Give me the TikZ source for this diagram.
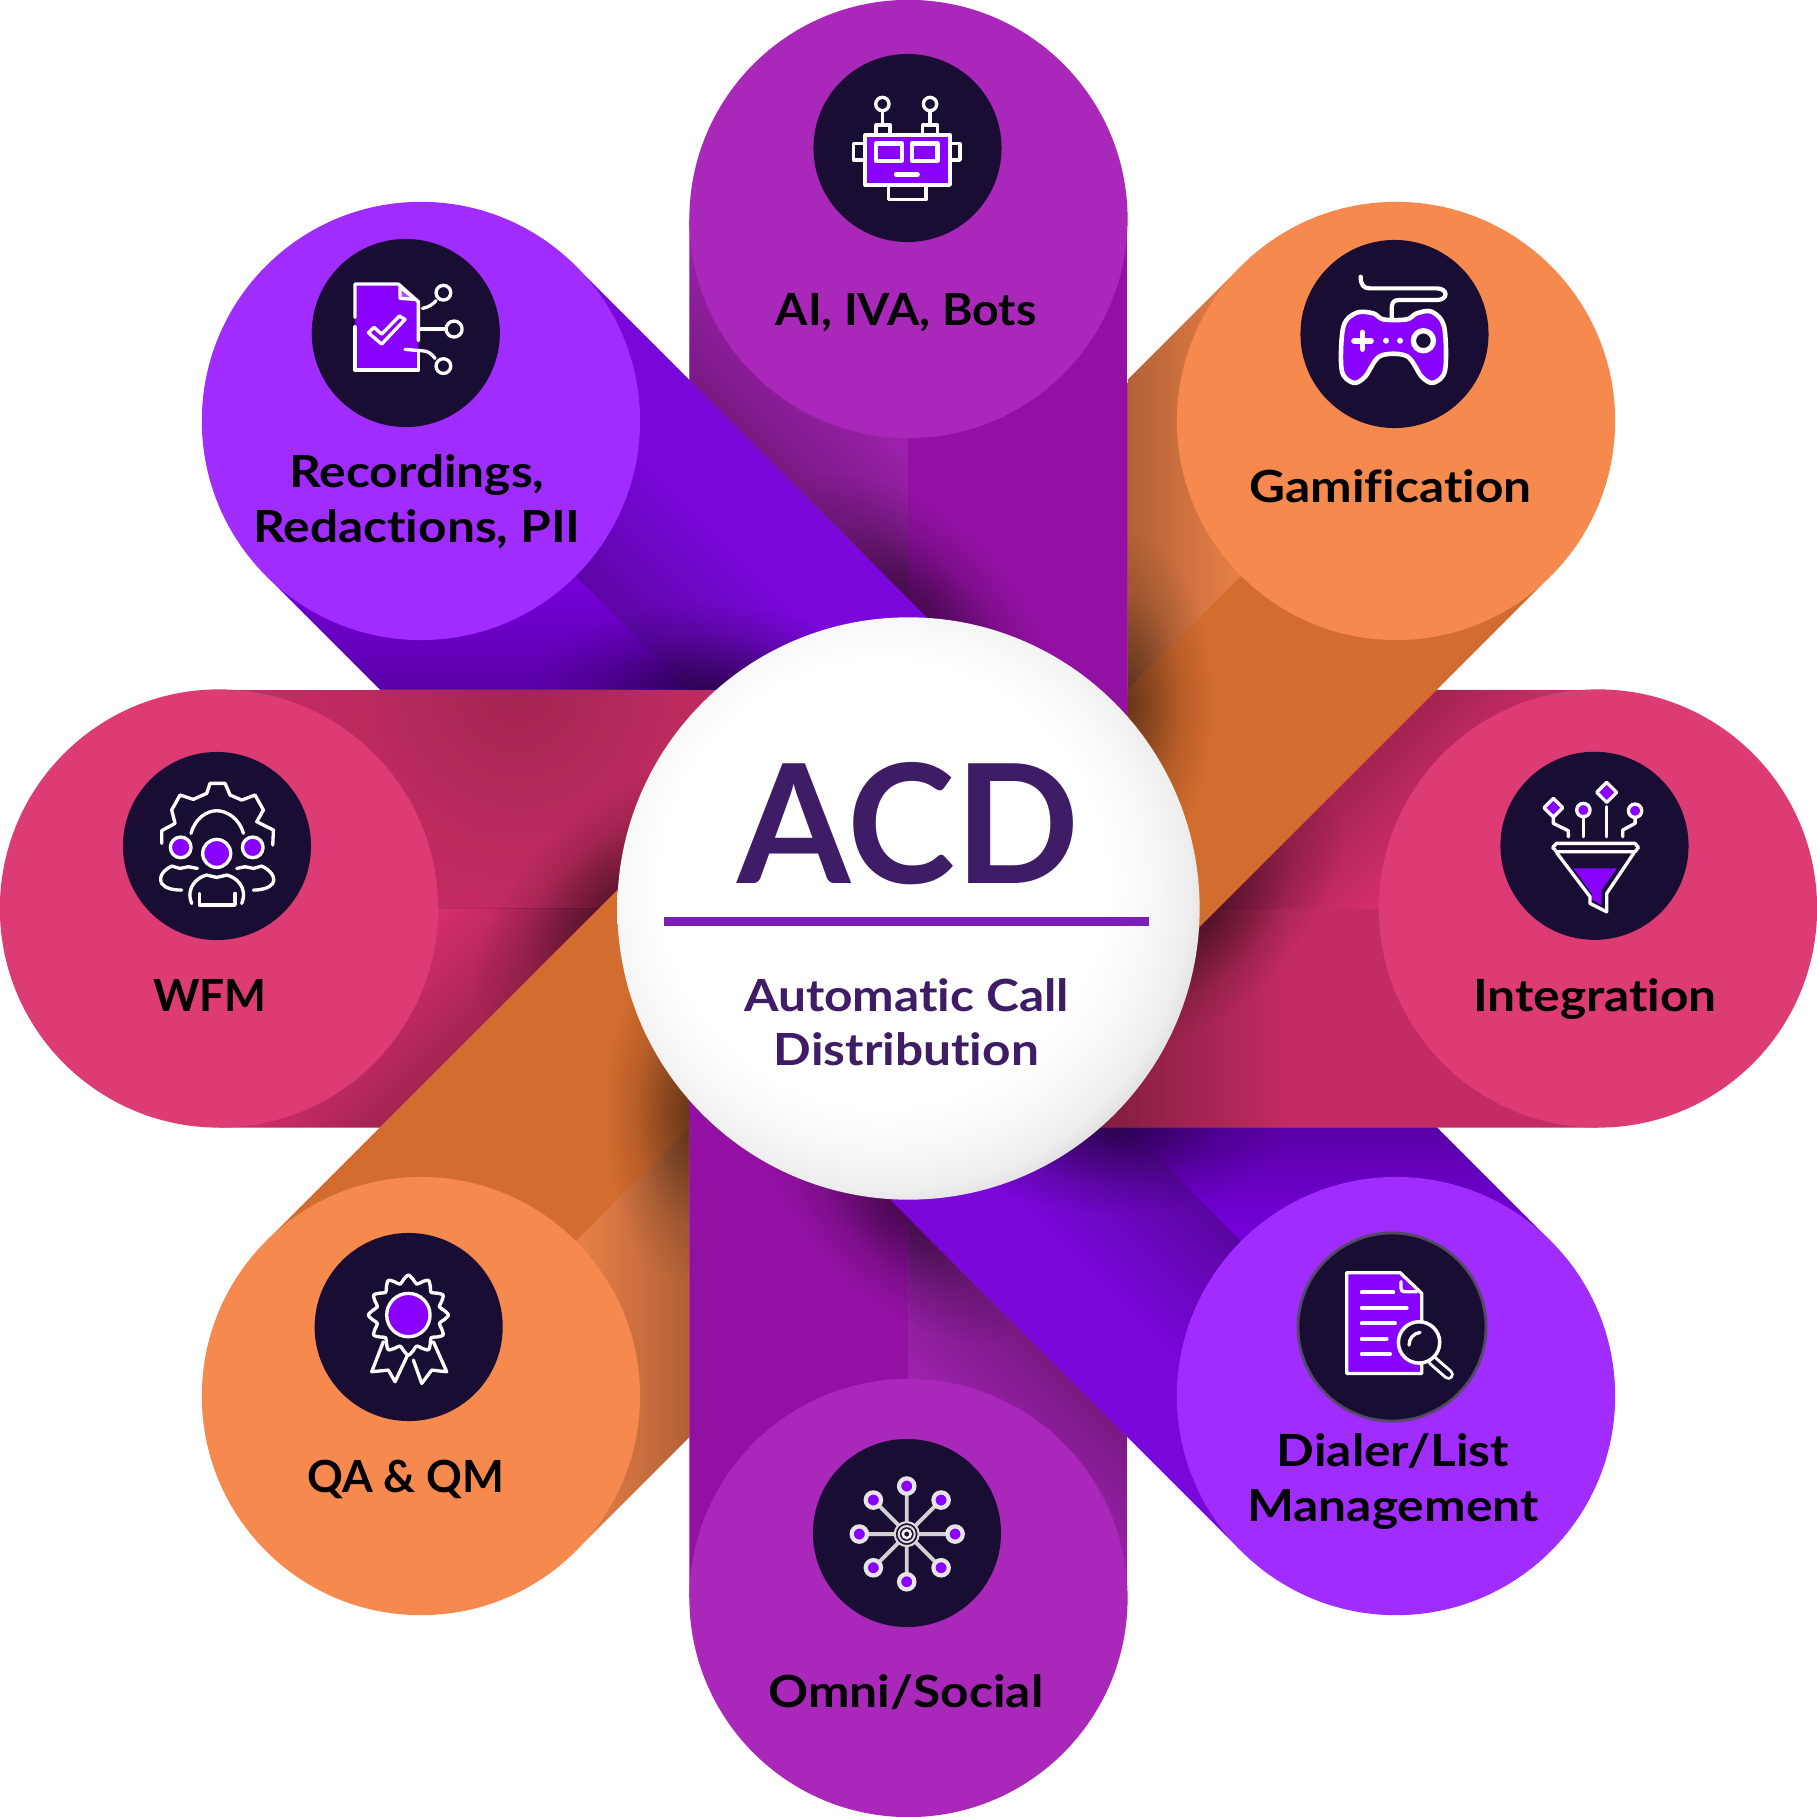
\documentclass[tikz,border=0pt]{standalone}
\usepackage{fontspec}
\setmainfont{Lato}[FakeStretch=1.12,Ligatures=NoCommon]
\newfontfamily\capsfont{Lato}[FakeStretch=1.05,Ligatures=NoCommon]
\newfontfamily\capsnarrow{Lato}[FakeStretch=1.0,Ligatures=NoCommon]
\newfontfamily\acdfont{Lato}[FakeStretch=.985]
\usetikzlibrary{fadings}
\definecolor{topdisc}{HTML}{A927B9}\definecolor{topa}{HTML}{A323B3}\definecolor{topb}{HTML}{9211A2}
\definecolor{ordisc}{HTML}{F6894D}\definecolor{ora}{HTML}{F0844A}\definecolor{orb}{HTML}{D36C2F}
\definecolor{pkdisc}{HTML}{DC3B74}\definecolor{pka}{HTML}{DC3070}\definecolor{pkb}{HTML}{C32C62}
\definecolor{vidisc}{HTML}{A02CFF}\definecolor{via}{HTML}{7A00E2}\definecolor{vib}{HTML}{7A08DA}
\definecolor{badgedark}{HTML}{1A0D33}\definecolor{icoviolet}{HTML}{8A00FF}
\definecolor{acdtext}{HTML}{3F1C66}\definecolor{rulecol}{HTML}{7B1FB5}
\pgfdeclareradialshading{discball}{\pgfpoint{-3.5bp}{3.5bp}}{color(0bp)=(white); color(19bp)=(white); color(23bp)=(white!97!black); color(26bp)=(white!93!black); color(28.5bp)=(white!84!black); color(29.5bp)=(white!72!black); color(30.5bp)=(white!62!black); color(50bp)=(white!62!black)}
\tikzfading[name=shfade, left color=transparent!0, right color=transparent!100]
\pgfdeclareradialshading{softrad}{\pgfpoint{0bp}{0bp}}{color(0bp)=(pgftransparent!0); color(8bp)=(pgftransparent!35); color(16bp)=(pgftransparent!75); color(25bp)=(pgftransparent!100); color(50bp)=(pgftransparent!100)}
\pgfdeclarefading{radfade}{\pgfuseshading{softrad}}
\newcommand{\stripshadow}[4]{\begin{scope}[transform canvas={rotate=#1}]\fill[black,opacity=#4,path fading=shfade] (#2,-1000) rectangle ({#2+#3},1000);\end{scope}}
\newcommand{\radshadow}[4]{\fill[black,opacity=#4,path fading=radfade] (#1,#2) circle (#3);}
\newcommand{\edgeshadow}{\begin{scope}[transform canvas={rotate=45}]\fill[black,opacity=.5,path fading=radfade] (219,205) ellipse [x radius=85,y radius=170];\end{scope}}
% angle, ccw colour, cw colour, cut offset, extras
\newcommand{\petal}[5]{%
\begin{scope}[transform canvas={rotate=#1}]
\begin{scope}
\clip (-219,689.5) -- (219,689.5) -- (219,#4-219) -- (-219,#4+219) -- cycle;
\fill[#3] (-1,689.5) rectangle (219,-100);
\fill[#2] (-219,689.5) rectangle (0,-100);
\begin{scope}\clip (-219,689.5) rectangle (0,-100);\stripshadow{45}{219.2}{125}{.26}\end{scope}
\edgeshadow
#5
\end{scope}
\end{scope}}
\tikzset{
 badge/.style={circle,fill=badgedark,minimum size=1.88cm,inner sep=0pt},
 capend/.style={circle,minimum size=4.38cm,inner sep=0pt},
 lbl/.style={font=\fontsize{12.6}{15.5}\selectfont\bfseries,text=black,anchor=base,align=center,inner sep=0pt},
 capslbl/.style={font=\capsfont\fontsize{12.6}{15.5}\selectfont\bfseries,text=black,anchor=base,align=center,inner sep=0pt},
 narrowlbl/.style={font=\capsnarrow\fontsize{12.6}{15.5}\selectfont\bfseries,text=black,anchor=base,align=center,inner sep=0pt},
 sublbl/.style={font=\fontsize{12.6}{15.5}\selectfont\bfseries,text=acdtext,anchor=base,align=center,inner sep=0pt},
 ic/.style={draw=white,line width=.95pt,line join=round,line cap=round},
 icf/.style={ic,fill=icoviolet},
 icd/.style={ic,fill=badgedark},
 iconat/.style 2 args={shift={({#1-908.5},{908.5-#2})},x=0.033333mm,y=-0.033333mm}
}
\begin{document}
\begin{tikzpicture}[x=.01cm,y=.01cm]
\useasboundingbox (-908.5,-908.5) rectangle (908.5,908.5);
\fill[topb] (218,100) rectangle (221,525);
\petal{0}{topa}{topb}{308}{}
\petal{45}{via}{vib}{308}{\begin{scope}\clip (0,-100) rectangle (219,700);\stripshadow{0}{0}{130}{.24}\end{scope}}
\petal{90}{pka}{pkb}{308}{\radshadow{219}{391}{230}{.16}}
\petal{135}{ora}{orb}{308}{}
\petal{180}{topa}{topb}{308}{}
\petal{225}{via}{vib}{308}{\begin{scope}\clip (0,-100) rectangle (219,700);\stripshadow{0}{0}{130}{.26}\end{scope}}
\petal{270}{pka}{pkb}{308}{\begin{scope}\clip (0,-100) rectangle (219,700);\stripshadow{90}{170}{210}{.38}\end{scope}}
\petal{315}{ora}{orb}{310}{}
% capsule ends
\node (endt) [capend,fill=topdisc] at (90:689.5) {};
\node (endtl) [capend,fill=vidisc] at (135:689.5) {};
\node (endl) [capend,fill=pkdisc] at (180:689.5) {};
\node (endbl) [capend,fill=ordisc] at (225:689.5) {};
\node (endb) [capend,fill=topdisc] at (270:689.5) {};
\node (endbr) [capend,fill=vidisc] at (315:689.5) {};
\node (endr) [capend,fill=pkdisc] at (0:689.5) {};
\node (endtr) [capend,fill=ordisc] at (45:689.5) {};
% hub
\node (hub) [circle,minimum size=5.82cm,inner sep=0pt,shading=discball] at (0,0) {};
\fill[rulecol] (-244,-8.5) rectangle (241,-17.2);
\node (acd) [font=\acdfont\fontsize{47.1}{50}\selectfont\bfseries,text=acdtext,anchor=base,inner sep=0pt] at (-0.5,25.1) {ACD};
\node (acdsub) [sublbl] at (-2,-157.1) {Automatic Call\\Distribution};
% badges
\node (bt) [badge] at (-1,760.5) {};
\node (btl) [badge] at (-502.7,575.5) {};
\node (btr) [badge] at (486,574.5) {};
\node (br) [badge] at (686,62.7) {};
\node (bl) [badge] at (-691.5,62.5) {};
\node (bbl) [badge] at (-499.8,-418.5) {};
\node (bb) [badge] at (-1.5,-624.5) {};
\node (bbr) [badge,draw=badgedark!75!white,line width=.8pt] at (483.5,-418.5) {};
% labels
\node (lt) [capslbl] at (-2.5,582.9) {AI, IVA, Bots};
\node (ltl) [lbl] at (-491.5,366.5) {Recordings,\\Redactions, PII};
\node (ltr) [lbl] at (482.1,406.5) {Gamification};
\node (ll) [narrowlbl] at (-698.5,-103) {WFM};
\node (lr) [lbl] at (686.5,-103) {Integration};
\node (lbl) [narrowlbl] at (-502.9,-584) {QA \& QM};
\node (lb) [lbl] at (-2.5,-799) {Omni/Social};
\node (lbr) [lbl] at (484.5,-613) {Dialer/List\\Management};
% robot
\begin{scope}[iconat={800}{40}]
\draw[ic] (247,192) circle (20) (390,192) circle (20);
\draw[ic] (247,212)--(247,255) (390,212)--(390,255);
\draw[ic] (228,285)--(228,255)--(270,255)--(270,285) (368,285)--(368,255)--(412,255)--(412,285);
\draw[ic] (195,310)--(160,310)--(160,360)--(195,360) (450,310)--(480,310)--(480,360)--(450,360);
\draw[ic] (265,435)--(265,478)--(378,478)--(378,435);
\draw[icf] (195,285) rectangle (450,435);
\draw[icf,line width=1.2pt] (228,310) rectangle (305,362);
\draw[icf,line width=1.2pt] (335,310) rectangle (412,362);
\draw[ic,line width=1.2pt] (288,403)--(353,403);
\end{scope}
% document with branches
\begin{scope}[iconat={300}{230}]
\fill[icoviolet] (165,165)--(295,165)--(355,215)--(355,420)--(165,420)--cycle;
\draw[ic] (165,262)--(165,162)--(295,162)--(355,215)--(355,332);
\draw[ic] (355,362)--(355,420)--(165,420)--(165,290);
\draw[ic,fill=icoviolet!70!white] (300,170)--(300,205)--(345,208)--cycle;
\draw[ic,fill=icoviolet] (205,308)--(245,342)--(315,268)--(298,258)--(245,312)--(222,292)--cycle;
\draw[ic] (367,235) .. controls (385,232) and (395,225) .. (408,212);
\draw[ic] (430,188) circle (22);
\draw[ic] (358,297)--(436,297);
\draw[ic] (462,297) circle (24);
\draw[ic] (315,358)--(365,362) .. controls (385,362) and (395,372) .. (405,385);
\draw[ic] (430,408) circle (22);
\end{scope}
% gamepad
\begin{scope}[iconat={1290}{230}]
\draw[ic,line width=1.2pt] (212,140) .. controls (212,165) and (220,175) .. (240,175) -- (440,175) .. controls (475,175) and (475,210) .. (440,210) -- (325,210) .. controls (310,210) and (305,220) .. (305,235) -- (305,262);
\draw[icf,line width=1.3pt] plot[smooth cycle,tension=.55] coordinates {(160,290) (200,248) (250,250) (280,268) (350,268) (380,250) (425,245) (462,290) (465,420) (430,458) (395,440) (350,378) (270,378) (225,440) (190,458) (155,420)};
\draw[ic,line width=1.6pt] (192,332)--(243,332) (217,307)--(217,357);
\fill[white] (288,332) circle (9) (330,332) circle (9);
\draw[draw=white,line width=1.5pt,fill=badgedark] (400,332) circle (30);
\end{scope}
% funnel
\begin{scope}[iconat={1490}{740}]
\draw[icf] (190,175)--(218,203)--(190,231)--(162,203)--cycle;
\draw[icf] (350,127)--(380,157)--(350,187)--(320,157)--cycle;
\draw[icf] (280,210) circle (20) (435,212) circle (20);
\draw[ic] (190,235)--(190,250)--(235,272)--(235,290);
\draw[ic] (280,232)--(280,290) (350,200)--(350,290);
\draw[ic] (435,235)--(435,250)--(398,270)--(398,290);
\draw[ic] (200,310)--(435,310)--(445,322)--(435,335)--(200,335)--(188,322)--cycle;
\fill[icoviolet] (250,385)--(380,385)--(335,450)--(335,495)--(305,478)--(305,460)--cycle;
\draw[ic] (200,338)--(300,470)--(300,490)--(350,515)--(350,460)--(432,338);
\end{scope}
% workforce
\begin{scope}[iconat={110}{740}]
\draw[ic] (155,310)--(155,272)--(195,250)--(185,210)--(210,165)--(250,178)--(290,160)--(300,130)--(345,130)--(360,165)--(395,180)--(435,165)--(460,210)--(440,245)--(490,270)--(488,315);
\draw[ic] (243,280) .. controls (255,235) and (290,212) .. (320,212) .. controls (350,212) and (388,235) .. (400,280);
\draw[icf] (320,340) circle (42);
\draw[icf] (212,322) circle (31) (428,322) circle (31);
\draw[ic] (245,490) .. controls (225,440) and (265,410) .. (290,405) -- (320,412) -- (350,405) .. controls (375,410) and (415,440) .. (395,490);
\draw[ic] (268,460)--(268,495)--(375,495)--(375,460);
\draw[ic] (262,385)--(235,380)--(210,385)--(185,378) .. controls (160,390) and (145,410) .. (155,430) .. controls (165,445) and (190,450) .. (215,450);
\draw[ic] (380,385)--(405,380)--(430,385)--(455,378) .. controls (480,390) and (498,410) .. (488,430) .. controls (478,445) and (450,450) .. (430,450);
\end{scope}
% rosette
\begin{scope}[iconat={300}{1220}]
\draw[ic] (250,365)--(215,455)--(265,450)--(285,485)--(325,400);
\draw[ic] (400,365)--(440,455)--(395,450)--(365,490)--(340,420);
\draw[ic,fill=badgedark] plot[smooth cycle,samples=48,domain=0:352.5,variable=\t] ({325+(108+12*cos(12*\t))*cos(\t)},{285+(108+12*cos(12*\t))*sin(\t)});
\draw[icf] (325,285) circle (65);
\end{scope}
% network
\begin{scope}[iconat={800}{1425}]
\draw[draw=white!82!black,line width=1.1pt] (320,183)--(320,470) (178,327)--(465,327) (220,225)--(423,428) (423,225)--(220,428);
\draw[draw=white!85!black,line width=.6pt,fill=badgedark] (320,327) circle (36);
\draw[draw=white!85!black,line width=.6pt] (320,327) circle (24);
\draw[draw=white,line width=.7pt] (320,327) circle (12);
\foreach \nx/\ny in {320/183,320/470,178/327,465/327,220/225,423/225,220/428,423/428}{
\draw[draw=white!90!black,line width=1.2pt,fill=icoviolet] (\nx,\ny) circle (23);}
\end{scope}
% document with lens
\begin{scope}[iconat={1285}{1220}]
\draw[icf] (185,158)--(345,158)--(410,220)--(410,460)--(185,460)--cycle;
\draw[ic] (348,185)--(348,205) .. controls (348,212) and (352,215) .. (358,215) -- (395,215);
\draw[ic,line width=1.1pt] (230,217)--(325,217) (230,263)--(365,263) (230,310)--(330,310) (230,356)--(305,356) (230,402)--(315,402);
\draw[white,line width=3.1pt,line cap=round] (443,422)--(490,463);
\draw[badgedark,line width=1.4pt,line cap=round] (443,422)--(490,463);
\draw[draw=white,line width=1pt,fill=badgedark] (402,367) circle (62);
\draw[ic] (372,375) .. controls (372,355) and (385,340) .. (405,337);
\end{scope}
\end{tikzpicture}
\end{document}
